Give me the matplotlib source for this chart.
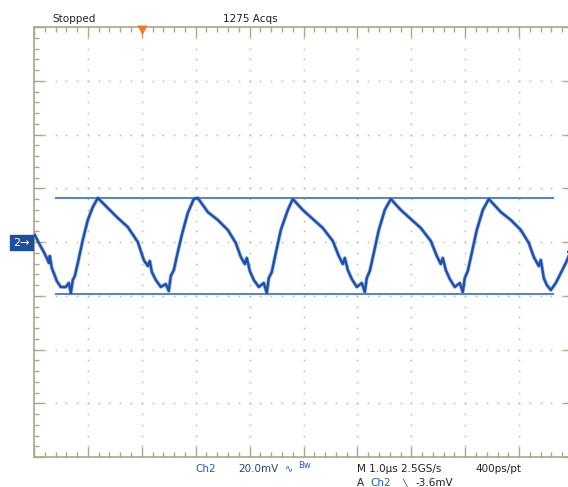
import numpy as np
import matplotlib.pyplot as plt

# captured trace, Ch2 (time in us from trigger, amplitude in mV)
t_us = [-1.985, -1.911, -1.818, -1.763, -1.725, -1.707, -1.670, -1.633, -1.577, -1.503,
        -1.410, -1.354, -1.317, -1.280, -1.243, -1.187, -1.095, -1.002, -0.909, -0.816,
        -0.631, -0.445, -0.260, -0.074, 0.037, 0.111, 0.148, 0.186, 0.260, 0.353,
        0.445, 0.501, 0.538, 0.594, 0.668, 0.742, 0.853, 0.965, 1.039, 1.224,
        1.410, 1.596, 1.744, 1.837, 1.911, 1.948, 2.004, 2.078, 2.171, 2.263,
        2.319, 2.356, 2.412, 2.486, 2.579, 2.709, 2.801, 2.987, 3.173, 3.358,
        3.544, 3.655, 3.729, 3.766, 3.822, 3.896, 3.989, 4.082, 4.137, 4.174,
        4.230, 4.304, 4.397, 4.508, 4.620, 4.805, 4.991, 5.176, 5.362, 5.473,
        5.547, 5.584, 5.640, 5.714, 5.807, 5.900, 5.955, 5.993, 6.048, 6.122,
        6.215, 6.327, 6.438, 6.660, 6.846, 7.032, 7.180, 7.273, 7.365, 7.403,
        7.458, 7.514, 7.588, 7.681, 7.774, 7.866, 7.922]
v_mv = [2.60, -0.37, -3.72, -5.95, -7.81, -5.21, -9.67, -11.53, -14.51, -16.74,
        -16.74, -15.26, -18.98, -14.14, -12.65, -7.81, 0.74, 8.19, 13.02, 16.37,
        12.65, 8.93, 5.58, 0.00, -6.70, -8.93, -7.07, -11.16, -14.14, -16.74,
        -15.63, -18.23, -12.65, -10.42, -3.72, 2.60, 10.79, 16.00, 16.37, 11.16,
        8.19, 4.47, -0.37, -5.58, -8.19, -5.95, -10.79, -14.14, -16.74, -15.26,
        -18.98, -13.40, -11.16, -4.09, 4.47, 11.91, 16.00, 11.91, 8.56, 5.21,
        0.37, -5.21, -8.19, -5.95, -10.42, -13.77, -16.74, -15.26, -18.61, -13.40,
        -10.79, -4.09, 4.47, 11.91, 16.00, 11.91, 8.56, 5.21, 0.37, -5.21,
        -8.19, -5.95, -10.42, -13.77, -16.74, -15.26, -18.61, -13.40, -10.79, -4.09,
        4.47, 11.91, 16.00, 11.16, 8.19, 4.47, -0.37, -5.58, -8.93, -6.70,
        -13.40, -16.00, -17.86, -15.26, -11.53, -7.81, -5.21]

# cursors (mV) and their span (us)
cursor_levels = [16.37, -19.35]
cursor_span = [-1.596, 7.625]
trig_level = -3.6

frame_col = '#aba58c'
dot_col = '#bdb8a0'
trace_col = '#1f50a6'

fig = plt.figure(figsize=(5.68, 4.87), dpi=100)
W, H = 568.0, 487.0
ax = fig.add_axes([34 / W, 30 / H, 539 / W, 430 / H])
ax.set_xlim(-2, 8)
ax.set_ylim(-80, 80)

for s in ax.spines.values():
    s.set_color(frame_col)
    s.set_linewidth(1.2)
ax.set_xticks(np.arange(-2, 9, 1))
ax.set_xticks(np.arange(-2, 8.01, 0.2), minor=True)
ax.set_yticks(np.arange(-80, 81, 20))
ax.set_yticks(np.arange(-80, 81, 4), minor=True)
ax.tick_params(which='both', direction='in', top=True, bottom=True, left=True, right=True,
               labelbottom=False, labelleft=False, color=frame_col, width=1.0)
ax.tick_params(which='major', length=7.5)
ax.tick_params(which='minor', length=3.6)

# dotted graticule
for gx in range(-1, 8):
    yy = np.arange(-80, 81, 4)
    ax.plot(np.full(len(yy), gx), yy, 's', ms=1.1, color=dot_col, mec='none', zorder=1)
for gy in range(-60, 61, 20):
    xx = np.arange(-2, 8.01, 0.2)
    ax.plot(xx, np.full(len(xx), gy), 's', ms=1.1, color=dot_col, mec='none', zorder=1)

for lvl in cursor_levels:
    ax.plot(cursor_span, [lvl, lvl], color='#5d84bb', lw=1.5, zorder=2)

ax.plot(t_us, v_mv, color='#5a80bd', lw=2.8, alpha=0.55, zorder=3, solid_joinstyle='round')
ax.plot(t_us, v_mv, color=trace_col, lw=1.7, zorder=4, solid_joinstyle='round')

# trigger position marker (top) and trigger level arrow (right)
ax.plot([0], [79.0], marker='v', ms=6.5, color='#f07a26', mec='none', clip_on=False, zorder=5)
ax.annotate('', xy=(7.82, trig_level), xytext=(7.98, trig_level),
            arrowprops=dict(arrowstyle='->', color=trace_col, lw=1.5), annotation_clip=False)

# channel 2 ground marker
fig.patches.append(plt.Rectangle((10 / W, 1 - 250 / H), 23 / W, 15 / H,
                                 transform=fig.transFigure, color='#1d4f9c', zorder=5))
fig.text(21 / W, 1 - 243 / H, '2\u2192', color='white', fontsize=8, ha='center', va='center',
         zorder=6)

def txt(x, y, s, col='#222222', size=7.5, **kw):
    fig.text(x / W, 1 - y / H, s, color=col, fontsize=size, va='center', ha='left', **kw)

txt(52, 19, 'Stopped')
txt(223, 19, '1275 Acqs')
txt(195, 469, 'Ch2', col='#2a5ba6')
txt(238, 469, '20.0mV', col='#25466f')
txt(285, 469, '\u223f', col='#2a5ba6', size=7)
txt(298, 466, 'Bw', col='#2a5ba6', size=6)
txt(357, 469, 'M 1.0\u00b5s 2.5GS/s')
txt(475, 469, '400ps/pt')
txt(357, 483, 'A')
txt(370, 483, 'Ch2', col='#2a5ba6')
txt(402, 483, '\u2572', size=6)
txt(415, 483, '-3.6mV')

fig.savefig('out.png', dpi=100)
